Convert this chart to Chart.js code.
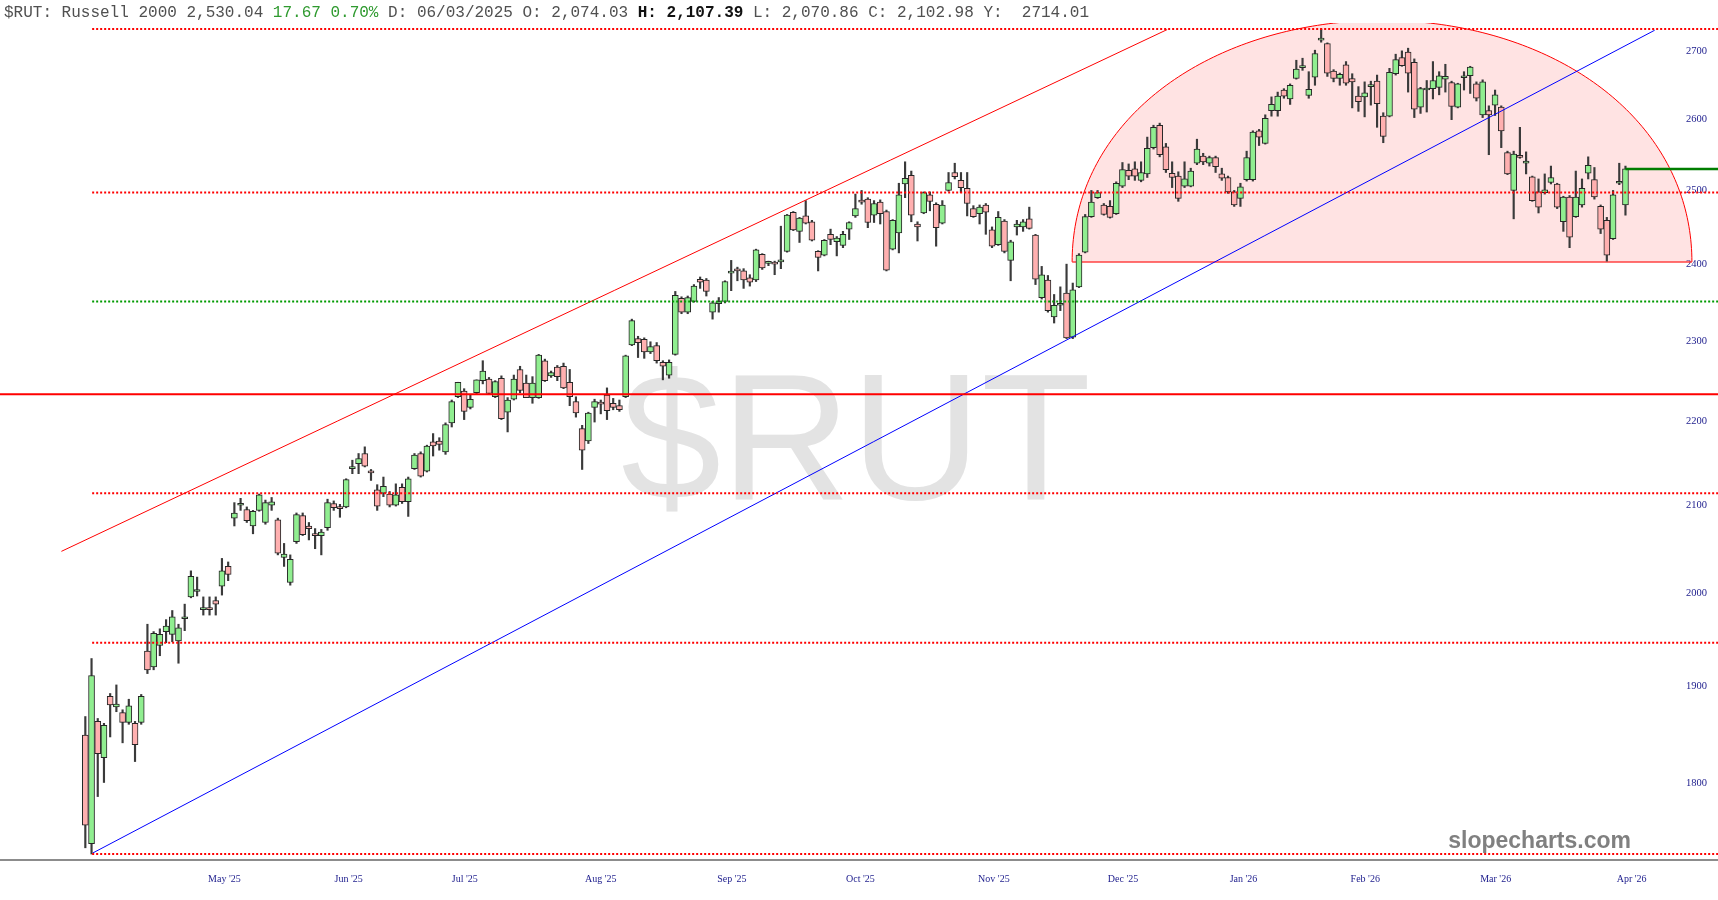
<!DOCTYPE html>
<html>
<head>
<meta charset="utf-8">
<title>$RUT</title>
<script src="https://cdn.jsdelivr.net/npm/chart.js@4.4.1/dist/chart.umd.min.js"></script>
<style>
html, body { margin: 0; padding: 0; background: #fff; }
#wrap { position: relative; width: 1718px; height: 900px; }
#hdr { position: absolute; left: 4px; top: 3px; z-index: 2; white-space: pre;
       font: 16px "Liberation Mono", monospace; line-height: 20px; color: #505050; }
#hdr .up { color: #2f9a2f; }
#hdr b { color: #111; }
</style>
</head>
<body>
<div id="wrap">
  <div id="hdr">$RUT: Russell 2000 2,530.04 <span class="up">17.67 0.70%</span> D: 06/03/2025 O: 2,074.03 <b>H: 2,107.39</b> L: 2,070.86 C: 2,102.98 Y:  2714.01</div>
  <canvas id="chart"></canvas>
</div>
<script>
// Daily candles, Apr 2025 -> Apr 2026 (x = trading day index)
const opens = [
  1849,1741,1863,1826,1889,1878,1872,1862,1861,1862,
  1937,1920,1943,1958,1955,1948,1972,1996,2002,1982,
  1983,1992,2008,2030,2085,2100,2095,2076,2094,2080,
  2100,2083,2040,2012,2058,2088,2076,2066,2065,2074,
  2102,2098,2098,2143,2149,2161,2140,2118,2114,2113,
  2100,2121,2104,2143,2161,2140,2175,2176,2163,2198,
  2230,2237,2217,2235,2250,2252,2230,2253,2211,2227,
  2264,2247,2229,2229,2275,2256,2267,2268,2248,2224,
  2191,2176,2217,2222,2232,2222,2219,2230,2295,2303,
  2302,2286,2294,2273,2257,2283,2355,2337,2351,2380,
  2379,2337,2348,2351,2388,2393,2391,2382,2379,2413,
  2401,2402,2403,2417,2470,2444,2465,2457,2417,2412,
  2440,2430,2425,2447,2465,2486,2488,2466,2484,2471,
  2420,2442,2509,2521,2454,2469,2494,2481,2455,2500,
  2525,2514,2503,2475,2468,2480,2446,2426,2458,2405,
  2450,2450,2461,2439,2356,2379,2331,2346,2362,2305,
  2370,2416,2464,2490,2480,2478,2468,2506,2528,2530,
  2514,2523,2560,2592,2561,2524,2520,2506,2506,2538,
  2548,2538,2546,2523,2518,2498,2489,2515,2515,2584,
  2566,2613,2613,2643,2630,2660,2676,2635,2662,2717,
  2712,2671,2660,2680,2660,2634,2633,2648,2656,2605,
  2605,2667,2691,2699,2684,2618,2643,2645,2647,2659,
  2654,2618,2661,2664,2652,2607,2613,2621,2618,2553,
  2500,2549,2538,2519,2498,2497,2511,2509,2457,2491,
  2464,2480,2524,2515,2478,2459,2434,2510,2480
];
const highs = [
  1868,1929,1866,1861,1892,1901,1875,1886,1863,1891,
  1966,1958,1961,1971,1981,1966,1988,2025,2018,1996,
  1996,1996,2039,2035,2103,2108,2098,2094,2113,2106,
  2109,2085,2056,2043,2091,2091,2080,2073,2072,2107,
  2105,2101,2131,2153,2161,2169,2142,2124,2133,2116,
  2125,2125,2133,2161,2163,2171,2185,2180,2198,2226,
  2248,2240,2233,2251,2275,2254,2250,2256,2229,2257,
  2268,2257,2255,2283,2277,2262,2269,2272,2264,2230,
  2195,2211,2227,2226,2241,2228,2226,2282,2328,2306,
  2304,2299,2298,2275,2276,2364,2357,2358,2373,2383,
  2381,2351,2356,2378,2405,2396,2394,2386,2420,2414,
  2404,2404,2451,2467,2471,2463,2486,2459,2418,2433,
  2447,2437,2444,2457,2495,2500,2490,2486,2487,2473,
  2460,2510,2540,2527,2457,2498,2498,2483,2486,2525,
  2538,2525,2525,2479,2480,2482,2450,2471,2460,2432,
  2459,2460,2477,2440,2397,2385,2360,2370,2400,2375,
  2414,2467,2500,2500,2482,2486,2512,2539,2537,2540,
  2540,2575,2592,2595,2566,2540,2526,2540,2531,2572,
  2552,2548,2548,2531,2520,2500,2510,2555,2584,2586,
  2607,2633,2640,2645,2652,2687,2690,2670,2702,2734,
  2713,2673,2668,2685,2667,2648,2655,2656,2665,2610,
  2675,2696,2701,2705,2689,2647,2657,2685,2670,2681,
  2656,2653,2670,2678,2655,2658,2620,2643,2620,2555,
  2555,2589,2554,2520,2516,2523,2534,2510,2492,2493,
  2527,2516,2547,2532,2480,2463,2500,2538,2534
];
const lows = [
  1737,1731,1787,1801,1847,1873,1841,1860,1822,1860,
  1913,1917,1932,1946,1947,1924,1959,1995,1997,1976,
  1976,1976,1998,2014,2076,2094,2080,2067,2093,2078,
  2094,2043,2030,2009,2056,2065,2060,2050,2043,2071,
  2094,2086,2097,2137,2137,2145,2129,2094,2110,2098,
  2099,2102,2087,2142,2133,2139,2158,2165,2160,2193,
  2229,2202,2215,2234,2246,2233,2229,2202,2187,2226,
  2235,2229,2222,2228,2249,2254,2250,2240,2219,2205,
  2142,2173,2199,2209,2202,2214,2212,2229,2294,2279,
  2278,2284,2272,2251,2253,2282,2335,2335,2350,2368,
  2358,2328,2337,2349,2365,2378,2368,2371,2377,2393,
  2398,2386,2394,2416,2445,2429,2454,2431,2391,2411,
  2426,2411,2422,2433,2463,2481,2449,2456,2454,2391,
  2419,2415,2490,2457,2431,2468,2472,2424,2454,2499,
  2516,2497,2465,2463,2454,2440,2422,2425,2415,2378,
  2439,2444,2447,2373,2354,2337,2323,2339,2303,2303,
  2369,2415,2463,2489,2466,2462,2467,2504,2515,2514,
  2512,2518,2558,2547,2525,2504,2485,2504,2505,2536,
  2536,2534,2525,2514,2496,2478,2478,2513,2513,2563,
  2565,2605,2605,2631,2622,2659,2672,2631,2650,2714,
  2663,2655,2650,2650,2617,2612,2604,2621,2589,2567,
  2604,2665,2678,2640,2603,2609,2611,2630,2636,2640,
  2600,2617,2643,2638,2627,2603,2550,2606,2560,2522,
  2461,2545,2523,2485,2469,2495,2509,2475,2444,2422,
  2463,2477,2516,2488,2441,2404,2433,2508,2466
];
const closes = [
  1759,1911,1830,1859,1880,1881,1862,1879,1839,1889,
  1917,1956,1955,1964,1974,1962,1973,2019,2003,1983,
  1982,1988,2025,2021,2091,2101,2082,2093,2112,2103,
  2104,2045,2044,2038,2089,2066,2073,2065,2069,2103,
  2097,2096,2130,2143,2155,2146,2138,2099,2122,2100,
  2112,2104,2131,2159,2134,2170,2170,2172,2196,2224,
  2248,2212,2227,2251,2262,2234,2249,2203,2226,2252,
  2238,2229,2247,2282,2250,2260,2255,2241,2230,2210,
  2165,2210,2224,2221,2213,2217,2214,2281,2326,2298,
  2286,2293,2275,2268,2273,2359,2337,2356,2371,2376,
  2364,2349,2350,2377,2389,2391,2379,2376,2419,2395,
  2402,2400,2405,2466,2446,2462,2455,2432,2409,2432,
  2433,2435,2440,2456,2475,2484,2456,2482,2468,2392,
  2459,2494,2517,2466,2450,2497,2485,2449,2480,2511,
  2519,2504,2482,2464,2477,2470,2424,2463,2417,2430,
  2454,2457,2448,2380,2386,2339,2346,2346,2304,2366,
  2412,2464,2484,2497,2467,2463,2510,2529,2520,2520,
  2525,2559,2589,2550,2529,2518,2489,2516,2527,2558,
  2540,2546,2533,2517,2498,2480,2505,2546,2582,2575,
  2602,2622,2634,2634,2650,2674,2677,2644,2697,2717,
  2668,2660,2666,2653,2655,2626,2639,2649,2623,2576,
  2669,2688,2679,2668,2615,2645,2645,2657,2664,2663,
  2619,2652,2662,2677,2631,2655,2607,2636,2584,2523,
  2551,2546,2541,2486,2477,2501,2518,2477,2491,2436,
  2491,2503,2535,2491,2447,2412,2494,2512,2530
];

const lastPrice = 2530.04;

// axis labels
const monthLabels = ["May '25", "Jun '25", "Jul '25", "Aug '25", "Sep '25", "Oct '25",
                     "Nov '25", "Dec '25", "Jan '26", "Feb '26", "Mar '26", "Apr '26"];
const monthPos = [22.4, 42.4, 61.1, 83.0, 104.1, 124.8, 146.3, 167.1, 186.5, 206.1, 227.1, 249.0];
const yTicks = [1800, 1900, 2000, 2100, 2200, 2300, 2400, 2500, 2600, 2700];

// fibonacci levels, swing low 1731 -> swing high 2734
const fibLevels = [2734, 2497, 2351, 2233, 2114, 1946, 1731];
const fibStart  = [1.1, 1.1, 1.1, -14, 1.1, 1.1, 1.1];

// drawn trend lines (trading day index, price)
const redChannel = [{ x: -3.85, y: 2047 }, { x: 174.2, y: 2733 }];
const blueTrend  = [{ x: 1.2, y: 1732 }, { x: 252.7, y: 2732 }];

// half-ellipse top
const arcCenter = 208.8, arcHalfWidth = 49.9, arcBase = 2403, arcTop = 2747;

const xMin = -13.74, xMax = 262.9;
const yMin = 1725.3, yMax = 2743;

const GREEN = '#90ee90', PINK = '#ffb0b0';

let bodies = [], wicks = [], bodyColors = [];
for (let i = 0; i < opens.length; i++) {
    bodies.push({ x: i, y: [opens[i], closes[i]] });
    wicks.push({ x: i, y: [lows[i], highs[i]] });
    bodyColors.push(closes[i] >= opens[i] ? GREEN : PINK);
}

function hLine(level, x0, color, width, dash) {
    return {
        type: 'line',
        data: [{ x: x0, y: level }, { x: xMax, y: level }],
        borderColor: color, borderWidth: width, borderDash: dash,
        pointRadius: 0, fill: false, order: 0
    };
}

let lineSets = fibLevels.map((lv, i) => {
    if (i === 3) return hLine(lv, fibStart[i], '#ff0000', 2, []);
    if (i === 2) return hLine(lv, fibStart[i], '#009a00', 2, [2, 2]);
    return hLine(lv, fibStart[i], '#ff0000', 2, [2, 2]);
});
lineSets.push({ type: 'line', data: redChannel, borderColor: '#ff0000', borderWidth: 1, pointRadius: 0, order: 0 });
lineSets.push({ type: 'line', data: blueTrend, borderColor: '#0000ff', borderWidth: 1, pointRadius: 0, order: 0 });
lineSets.push(hLine(lastPrice, opens.length - 1, '#007d00', 2.5, []));

const overlay = {
    id: 'overlay',
    beforeDatasetsDraw(chart) {
        const { ctx, chartArea: a, scales: { x, y } } = chart;
        ctx.save();
        ctx.beginPath();
        ctx.rect(a.left, a.top, a.right - a.left, a.bottom - a.top);
        ctx.clip();

        // watermark
        ctx.font = '180px "Liberation Sans", Arial, sans-serif';
        ctx.fillStyle = '#e3e3e3';
        ctx.textAlign = 'center';
        ctx.textBaseline = 'alphabetic';
        ctx.fillText('$RUT', (a.left + a.right) / 2 - 3, a.bottom - 361);

        // half ellipse
        let pts = [];
        for (let k = 0; k <= 180; k++) {
            const t = Math.PI - Math.PI * k / 180;
            pts.push([x.getPixelForValue(arcCenter + arcHalfWidth * Math.cos(t)),
                      y.getPixelForValue(arcBase + (arcTop - arcBase) * Math.sin(t))]);
        }
        ctx.beginPath();
        pts.forEach((p, k) => k ? ctx.lineTo(p[0], p[1]) : ctx.moveTo(p[0], p[1]));
        ctx.closePath();
        ctx.fillStyle = 'rgba(255,0,0,0.11)';
        ctx.fill();
        ctx.beginPath();
        pts.forEach((p, k) => k ? ctx.lineTo(p[0], p[1]) : ctx.moveTo(p[0], p[1]));
        ctx.strokeStyle = '#ff0000';
        ctx.lineWidth = 1;
        ctx.stroke();
        ctx.beginPath();
        ctx.moveTo(pts[0][0], pts[0][1]);
        ctx.lineTo(pts[180][0], pts[180][1]);
        ctx.strokeStyle = 'rgba(255,40,40,0.65)';
        ctx.lineWidth = 2;
        ctx.stroke();
        ctx.restore();
    },
    afterDraw(chart) {
        const { ctx, chartArea: a } = chart;
        ctx.save();
        ctx.font = 'bold 23px "Liberation Sans", Arial, sans-serif';
        ctx.fillStyle = '#808080';
        ctx.textAlign = 'right';
        ctx.textBaseline = 'alphabetic';
        ctx.fillText('slopecharts.com', a.right - 87, a.bottom - 12);
        ctx.restore();
    }
};

const tickFont = { family: '"Liberation Serif", "Times New Roman", serif', size: 10 };

new Chart(document.getElementById('chart'), {
    type: 'bar',
    data: {
        datasets: lineSets.concat([
            {
                label: 'body', data: bodies,
                backgroundColor: bodyColors, borderColor: '#262626', borderWidth: 1,
                borderSkipped: false, barThickness: 6, minBarLength: 2,
                grouped: false, order: 1
            },
            {
                label: 'wick', data: wicks,
                backgroundColor: '#3a3a3a', barThickness: 1.5,
                grouped: false, order: 2
            }
        ])
    },
    options: {
        animation: false,
        responsive: true,
        maintainAspectRatio: false,
        devicePixelRatio: 1,
        events: [],
        layout: { padding: { top: 23, left: 0, right: 0, bottom: 0 } },
        plugins: { legend: { display: false }, tooltip: { enabled: false } },
        scales: {
            x: {
                type: 'linear', min: xMin, max: xMax, offset: false,
                grid: { display: false, drawTicks: false },
                border: { display: true, color: '#8c8c8c', width: 2 },
                ticks: {
                    autoSkip: false, maxRotation: 0, padding: 13,
                    color: '#1c1c8c', font: tickFont,
                    callback: (v, i) => monthLabels[i]
                },
                afterBuildTicks: s => { s.ticks = monthPos.map(v => ({ value: v })); },
                afterFit: s => { s.height = 40; }
            },
            y: {
                type: 'logarithmic', position: 'right', min: yMin, max: yMax,
                grid: { display: false, drawTicks: false },
                border: { display: false },
                ticks: {
                    mirror: true, padding: -11, autoSkip: false,
                    color: '#1c1c8c', font: { family: tickFont.family, size: 10.5 },
                    callback: v => String(v)
                },
                afterBuildTicks: s => { s.ticks = yTicks.map(v => ({ value: v })); },
                afterFit: s => { s.width = 0; }
            }
        }
    },
    plugins: [overlay]
});
</script>
</body>
</html>
